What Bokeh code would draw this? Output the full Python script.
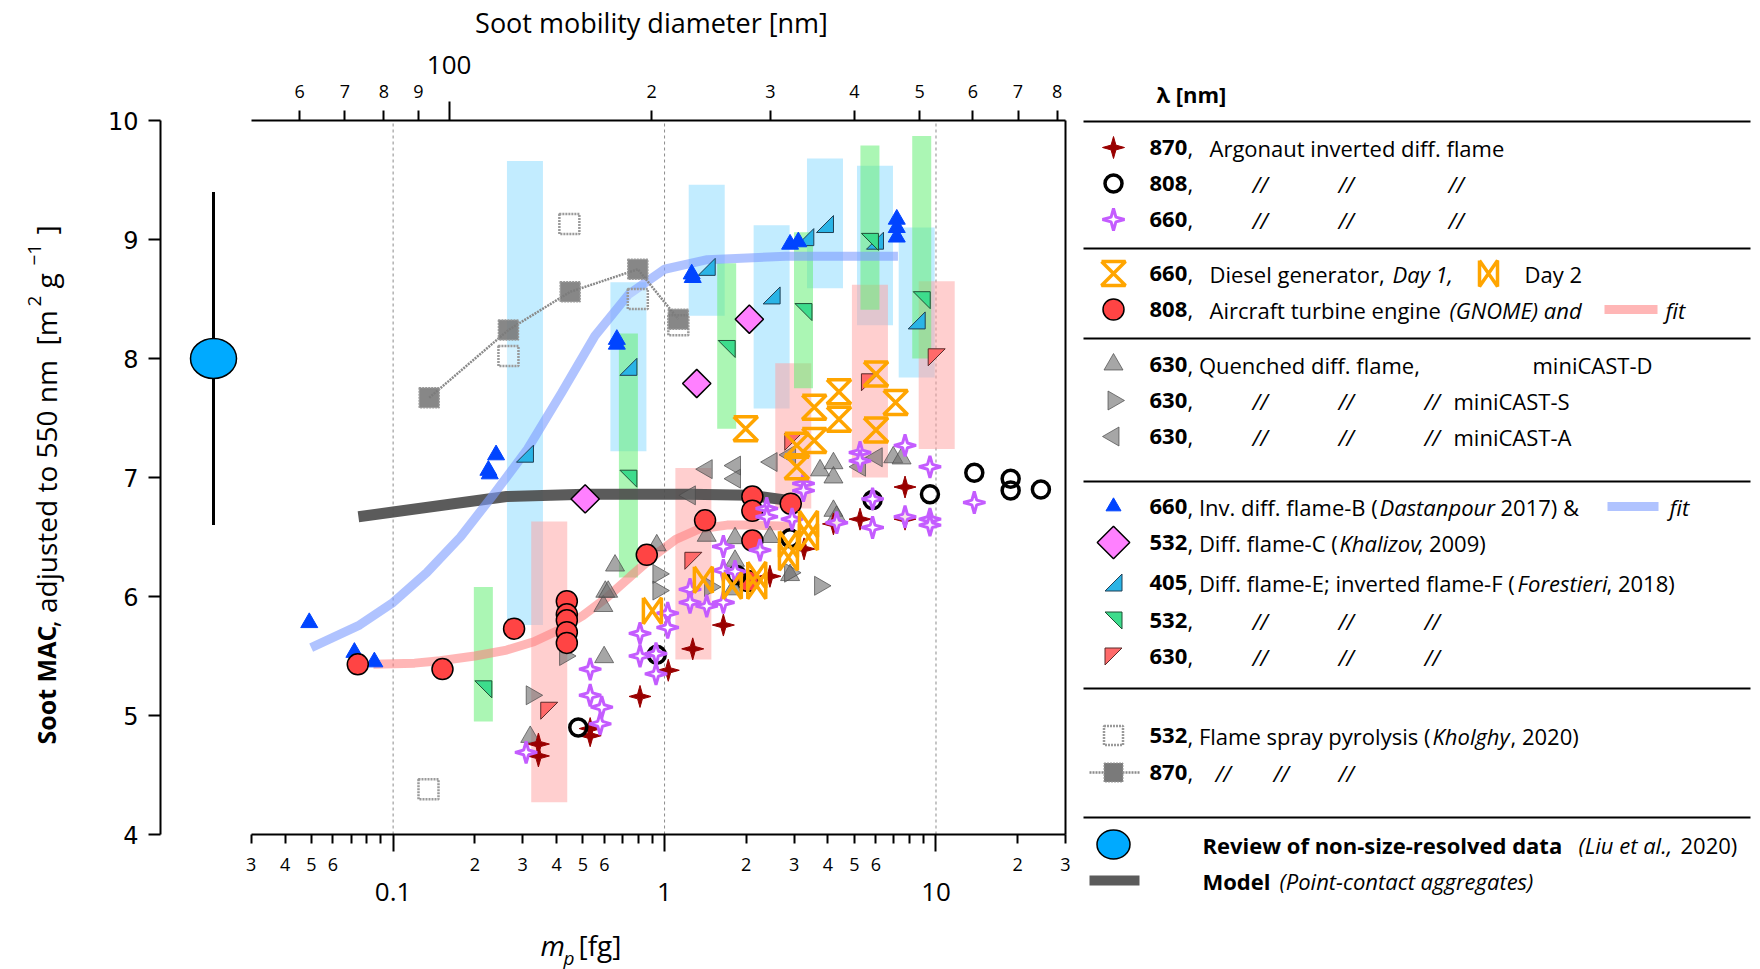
import numpy as np
from bokeh.plotting import figure
from bokeh.models import Range1d, LogScale, LogAxis, LinearAxis, FixedTicker
from bokeh.embed import file_html
from bokeh.resources import INLINE
from bokeh.core.properties import value

FONT = "Open Sans"

# ------------------------------------------------------------------ data
# m_p [fg] and MAC [m2/g] adjusted to 550 nm
# Argonaut inverted diffusion flame
arg870_m = [0.343, 0.343, 0.532, 0.532, 0.812, 1.032, 1.27, 1.647, 2.445, 3.265, 4.19, 5.25, 7.69, 7.69]
arg870_v = [4.76, 4.66, 4.89, 4.83, 5.16, 5.38, 5.56, 5.76, 6.17, 6.40, 6.61, 6.65, 6.92, 6.65]
arg808_m = [0.481, 0.936, 1.845, 2.9, 5.84, 9.5, 13.84, 18.84, 18.84, 24.35]
arg808_v = [4.90, 5.51, 6.18, 6.49, 6.81, 6.86, 7.04, 6.99, 6.89, 6.90]
arg660_m = [0.309, 0.532, 0.532, 0.587, 0.579, 0.812, 0.812, 0.93, 0.93, 1.027, 1.027,
            1.241, 1.241, 1.43, 1.647, 1.647, 1.647, 1.818, 2.247, 2.38, 2.38, 2.95,
            3.25, 3.25, 4.31, 5.25, 5.25, 5.84, 5.84, 7.69, 7.69, 9.5, 9.5, 9.5, 13.84]
arg660_v = [4.69, 5.39, 5.17, 5.07, 4.93, 5.69, 5.50, 5.52, 5.35, 5.86, 5.74,
            6.06, 5.95, 5.92, 6.42, 6.22, 5.95, 6.21, 6.39, 6.74, 6.67, 6.65,
            6.95, 6.89, 6.62, 7.21, 7.14, 6.82, 6.58, 7.27, 6.67, 7.09, 6.65, 6.60, 6.79]
# Diesel generator
day1_m = [1.99, 3.56, 4.39, 4.39, 6.01, 7.10, 6.01, 3.56, 3.07, 3.07]
day1_v = [7.41, 7.59, 7.72, 7.49, 7.87, 7.63, 7.40, 7.31, 7.27, 7.09]
day2_m = [0.902, 1.39, 1.777, 2.186, 2.186, 2.86, 2.86, 3.39, 3.39]
day2_v = [5.88, 6.14, 6.09, 6.18, 6.09, 6.44, 6.33, 6.61, 6.50]
# Aircraft turbine engine (GNOME) and fit
gnome_m = [0.0741, 0.152, 0.279, 0.4365, 0.4365, 0.4365, 0.4365, 0.4365, 0.86, 1.41, 2.03, 2.106, 2.106, 2.106, 2.917]
gnome_v = [5.43, 5.39, 5.73, 5.96, 5.85, 5.80, 5.70, 5.61, 6.35, 6.64, 6.13, 6.84, 6.72, 6.47, 6.78]
gnome_fit_m = [0.0846, 0.12, 0.149, 0.2, 0.262, 0.33, 0.401, 0.5, 0.612, 0.75, 0.936, 1.1, 1.35, 1.7, 2.065, 2.9]
gnome_fit_v = [5.43, 5.44, 5.46, 5.50, 5.55, 5.62, 5.71, 5.84, 5.99, 6.17, 6.36, 6.48, 6.57, 6.60, 6.60, 6.59]
# Quenched diffusion flame, miniCAST-D / -S / -A
castD_m = [0.32, 0.599, 0.595, 0.605, 0.62, 0.657, 0.936, 1.43, 1.818, 1.818, 1.79, 2.445, 2.9, 3.74, 4.19, 4.19, 4.19, 4.3, 6.96, 7.47]
castD_v = [4.82, 5.49, 5.92, 6.04, 6.04, 6.26, 6.43, 6.51, 6.49, 6.30, 6.06, 6.50, 6.18, 7.06, 7.12, 7.00, 6.72, 6.67, 7.17, 7.16]
castS_m = [0.324, 0.43, 0.949, 0.949, 1.471, 2.9, 3.74]
castS_v = [5.17, 5.50, 6.19, 6.05, 6.08, 6.20, 6.09]
castA_m = [1.24, 1.43, 1.818, 1.818, 2.48, 2.9, 5.25, 6.05]
castA_v = [6.85, 7.07, 7.10, 6.99, 7.13, 7.19, 7.09, 7.17]
# Inverted diffusion flame-B (Dastanpour 2017) and fit
dast_m = [0.0491, 0.0720, 0.0853, 0.2395, 0.2244, 0.227, 0.667, 0.667, 1.259, 1.27, 2.90, 3.11, 7.17, 7.17, 7.17]
dast_v = [5.78, 5.53, 5.45, 7.19, 7.06, 7.03, 8.16, 8.12, 8.71, 8.68, 8.96, 8.98, 9.17, 9.10, 9.02]
dast_fit_m = [0.0499, 0.0752, 0.1, 0.133, 0.177, 0.235, 0.313, 0.417, 0.554, 0.738, 1.0, 1.436, 2.8, 7.24]
dast_fit_v = [5.57, 5.76, 5.95, 6.20, 6.50, 6.86, 7.24, 7.71, 8.19, 8.54, 8.75, 8.83, 8.86, 8.86]
# Diffusion flame-C (Khalizov 2009)
khal_m = [0.510, 1.314, 2.053]
khal_v = [6.82, 7.79, 8.33]
# Forestieri 2018, 405 / 532 / 630 nm, with ranges
f405_m = [0.306, 0.736, 1.43, 2.48, 3.30, 3.90, 5.96, 8.49]
f405_v = [7.20, 7.93, 8.77, 8.53, 9.02, 9.13, 8.99, 8.32]
f405_lo = [5.76, 7.22, 8.36, 7.58, None, 8.59, 8.28, 7.84]
f405_hi = [9.66, 8.64, 9.46, 9.12, None, 9.68, 9.62, 9.10]
f532_m = [0.215, 0.736, 1.694, 3.25, 5.71, 8.86]
f532_v = [5.22, 6.99, 8.08, 8.39, 8.98, 8.49]
f532_lo = [4.95, 6.16, 7.41, 7.75, 8.41, 8.00]
f532_hi = [6.08, 8.21, 8.80, 9.06, 9.79, 9.87]
f630_m = [0.376, 1.277, 2.98, 5.71, 10.06]
f630_v = [5.04, 6.30, 7.30, 7.80, 8.01]
f630_lo = [4.27, 5.47, 6.74, 7.00, 7.24]
f630_hi = [6.63, 7.08, 7.96, 8.62, 8.65]
# Flame spray pyrolysis (Kholghy 2020)
fsp532_m = [0.135, 0.266, 0.446, 0.797, 1.124]
fsp532_v = [4.38, 8.02, 9.13, 8.50, 8.28]
fsp870_m = [0.1358, 0.266, 0.449, 0.797, 1.124]
fsp870_v = [7.67, 8.24, 8.56, 8.75, 8.33]
# Review of non-size-resolved data (Liu et al. 2020)
liu_mac = 8.0
liu_lo = 6.6
liu_hi = 9.4
# Model (point-contact aggregates)
model_m = [0.0745, 0.1, 0.262, 0.51, 1.24, 2.065, 2.82]
model_v = [6.67, 6.71, 6.84, 6.86, 6.86, 6.85, 6.81]
# axis ticks
y_ticks = [4, 5, 6, 7, 8, 9, 10]
bottom_ticks = [0.03, 0.04, 0.05, 0.06, 0.07, 0.08, 0.09, 0.2, 0.3, 0.4, 0.5, 0.6, 0.7, 0.8, 0.9,
                2, 3, 4, 5, 6, 7, 8, 9, 20, 30]
bottom_labels = ["3", "4", "5", "6", "", "", "", "2", "3", "4", "5", "6", "", "", "",
                 "2", "3", "4", "5", "6", "", "", "", "2", "3"]
decade_ticks = [0.1, 1, 10]
decade_labels = ["0.1", "1", "10"]
top_ticks = [60, 70, 80, 90, 200, 300, 400, 500, 600, 700, 800]
top_labels = ["6", "7", "8", "9", "2", "3", "4", "5", "6", "7", "8"]
top_main_tick = 100
# mass-mobility relation used for the top axis: m = M100 * (d/100)^DM
M100 = 0.1608
DM = 2.48

# ------------------------------------------------------------------ layout (canvas pixels)
W, H = 1760, 969
PL, PR, PT, PB = 160, 1065, 120, 834        # plot box on the canvas
XMIN, XMAX = 0.0139, 30.0
YMIN, YMAX = 4, 10
PPD = (PR - PL) / np.log10(XMAX / XMIN)
PPU = (PB - PT) / (YMAX - YMIN)


def dx(xf):
    return XMIN * 10 ** ((xf - PL) / PPD)


def dy(yf):
    return YMAX - (yf - PT) / PPU


def d_of_m(m):
    return 100.0 * (m / M100) ** (1.0 / DM)


def shapes(ms, vs, offs):
    xs = [[m * 10 ** (ox / PPD) for ox, oy in offs] for m in ms]
    ys = [[v + oy / PPU for ox, oy in offs] for v in vs]
    return xs, ys


def star4(R=11, r=3.4):
    c = r * np.cos(np.pi / 4)
    return [(0, R), (c, c), (R, 0), (c, -c), (0, -R), (-c, -c), (-R, 0), (-c, c)]


HOUR = [(-12, 12), (12, 12), (-12, -12), (12, -12), (-12, 12)]
BOW = [(-9, 13), (-9, -13), (9, 13), (9, -13), (-9, 13)]
S = 8.5
TRI405 = [(-S, -S), (S, -S), (S, S)]
TRI532 = [(-S, S), (S, S), (S, -S)]
TRI630 = [(-S, S), (S, S), (-S, -S)]

C_DRED = "#990000"
C_PURP = "#c45cff"
C_ORNG = "#ffa500"
C_RED = "#ff4444"
C_BLUE = "#0044ff"
C_PINK = "#ff80ff"
C_CYAN = "#2ab4e6"
C_GREEN = "#3ddc8c"
C_SALM = "#ff6a6a"
C_GRAY = "#6a6a6a"

p = figure(width=W, height=H, x_axis_type="log",
           x_range=Range1d(dx(0), dx(W)), y_range=Range1d(dy(H), dy(0)),
           x_axis_location=None, y_axis_location=None, min_border=0,
           output_backend="svg", toolbar_location=None, title=None)
p.outline_line_color = None
p.grid.visible = False
p.background_fill_color = "white"
p.border_fill_color = "white"

# bottom axis (fg)
bx = LogAxis(fixed_location=YMIN, bounds=(0.03, 30),
             ticker=FixedTicker(ticks=bottom_ticks, minor_ticks=decade_ticks),
             major_label_overrides={t: l for t, l in zip(bottom_ticks, bottom_labels)})
bx.axis_line_width = 2
bx.major_tick_line_width = 2
bx.minor_tick_line_width = 2
bx.major_tick_out = 9
bx.major_tick_in = 0
bx.minor_tick_out = 17
bx.minor_tick_in = 0
bx.major_label_standoff = 6
bx.major_label_text_font = FONT
bx.major_label_text_font_size = "18px"
bx.major_label_text_color = "black"
p.add_layout(bx, "below")

# left axis
ly = LinearAxis(fixed_location=XMIN, bounds=(YMIN, YMAX), ticker=FixedTicker(ticks=y_ticks))
ly.axis_line_width = 2
ly.major_tick_line_width = 2
ly.major_tick_out = 12
ly.major_tick_in = 0
ly.minor_tick_line_color = None
ly.major_label_standoff = 10
ly.major_label_text_font = "DejaVu Sans"
ly.major_label_text_font_size = "24px"
ly.major_label_text_color = "black"
p.add_layout(ly, "left")

# right frame line
ra = LinearAxis(fixed_location=XMAX, bounds=(YMIN, YMAX), ticker=FixedTicker(ticks=[]),
                axis_line_width=2, major_tick_line_color=None, minor_tick_line_color=None)
p.add_layout(ra, "right")

# top axis: soot mobility diameter
p.extra_x_ranges = {"d": Range1d(d_of_m(dx(0)), d_of_m(dx(W)))}
p.extra_x_scales = {"d": LogScale()}
ta = LogAxis(x_range_name="d", fixed_location=YMAX, bounds=(d_of_m(0.03), d_of_m(30)),
             ticker=FixedTicker(ticks=top_ticks, minor_ticks=[top_main_tick]),
             major_label_overrides={t: l for t, l in zip(top_ticks, top_labels)})
ta.axis_line_width = 2
ta.major_tick_line_width = 2
ta.minor_tick_line_width = 2
ta.major_tick_out = 10
ta.major_tick_in = 0
ta.minor_tick_out = 19
ta.minor_tick_in = 0
ta.major_label_standoff = 4
ta.major_label_text_font = FONT
ta.major_label_text_font_size = "18px"
ta.major_label_text_color = "black"
p.add_layout(ta, "above")

# dotted decade lines
p.segment(x0=decade_ticks, y0=[YMIN] * 3, x1=decade_ticks, y1=[YMAX] * 3,
          line_color="#8c8c8c", line_dash="3 3", line_width=1)

# ------------------------------------------------------------------ range boxes
def add_boxes(ms, lo, hi, half_px, color, alpha):
    f = 10 ** (half_px / PPD)
    lo_ = [np.nan if v is None else v for v in lo]
    hi_ = [np.nan if v is None else v for v in hi]
    p.quad(left=[m / f for m in ms], right=[m * f for m in ms], bottom=lo_, top=hi_,
           fill_color=color, fill_alpha=alpha, line_color=None)


add_boxes(f405_m, f405_lo, f405_hi, 18, "#8fdcff", 0.55)
add_boxes(f630_m, f630_lo, f630_hi, 18, "#ffa0a0", 0.5)
add_boxes(f532_m, f532_lo, f532_hi, 9.5, "#66ee77", 0.55)

# ------------------------------------------------------------------ curves
p.line(model_m, model_v, line_color="#4d4d4d", line_width=11, line_alpha=0.92)
p.line(dast_fit_m, dast_fit_v, line_color="#7b9bff", line_width=9, line_alpha=0.6)
p.line(gnome_fit_m, gnome_fit_v, line_color="#ff7a7a", line_width=9, line_alpha=0.55)
p.line(fsp870_m, fsp870_v, line_color="#8a8a8a", line_width=2.5, line_dash="2 1")

# ------------------------------------------------------------------ markers
p.scatter(fsp532_m, fsp532_v, marker="square", size=20, fill_color="white", fill_alpha=0.3,
          line_color="#9a9a9a", line_width=2.5, line_dash="2 1")
p.scatter(fsp870_m, fsp870_v, marker="square", size=20, fill_color="#7a7a7a", fill_alpha=0.9,
          line_color="#999999", line_width=1.5, line_dash="2 1")

GRAY_KW = dict(size=19, fill_color=C_GRAY, fill_alpha=0.6, line_color="#4a4a4a", line_alpha=0.7)
p.scatter(castD_m, castD_v, marker="triangle", **GRAY_KW)
p.scatter(castS_m, castS_v, marker="triangle", angle=-np.pi / 2, **GRAY_KW)
p.scatter(castA_m, castA_v, marker="triangle", angle=np.pi / 2, **GRAY_KW)

xs, ys = shapes(f405_m, f405_v, TRI405)
p.patches(xs, ys, fill_color=C_CYAN, line_color="#1f3f55", line_width=1)
xs, ys = shapes(f532_m, f532_v, TRI532)
p.patches(xs, ys, fill_color=C_GREEN, line_color="#1f4f35", line_width=1)
xs, ys = shapes(f630_m, f630_v, TRI630)
p.patches(xs, ys, fill_color=C_SALM, line_color="#5a2a2a", line_width=1)

p.scatter(dast_m, dast_v, marker="triangle", size=17, fill_color=C_BLUE, line_color=C_BLUE)

p.scatter(khal_m, khal_v, marker="square", angle=np.pi / 4, size=20, fill_color=C_PINK,
          line_color="black", line_width=1.5)

p.scatter(gnome_m, gnome_v, marker="circle", size=21, fill_color=C_RED, line_color="black",
          line_width=1.5)

xs, ys = shapes(arg870_m, arg870_v, star4())
p.patches(xs, ys, fill_color=C_DRED, line_color=C_DRED, line_width=1)
p.scatter(arg808_m, arg808_v, marker="circle", size=17, fill_alpha=0, line_color="black",
          line_width=3.5)
xs, ys = shapes(arg660_m, arg660_v, star4())
p.patches(xs, ys, fill_color="white", fill_alpha=0.9, line_color=C_PURP, line_width=3)

xs, ys = shapes(day1_m, day1_v, HOUR)
p.multi_line(xs, ys, line_color=C_ORNG, line_width=3.5)
xs, ys = shapes(day2_m, day2_v, BOW)
p.multi_line(xs, ys, line_color=C_ORNG, line_width=3.5)

# Liu et al. review value with its range
LIU_X = dx(213)
p.segment(x0=[LIU_X], y0=[liu_lo], x1=[LIU_X], y1=[liu_hi], line_color="black", line_width=3)
p.ellipse(x=[LIU_X], y=[liu_mac], width=46, height=40, width_units="screen",
          height_units="screen", fill_color="#00aaff", line_color="black", line_width=1.5)


# ------------------------------------------------------------------ texts
def txt(xf, yf, s, style="normal", size="22px", align="left", angle=0.0, font=FONT):
    p.text(x=[dx(xf)], y=[dy(yf)], text=[s], angle=angle, text_font=value(font),
           text_font_style=style, text_font_size=size, text_align=align,
           text_baseline="middle", text_color="black")


for t, lab in zip(decade_ticks, decade_labels):
    p.text(x=[t], y=[dy(891)], text=[lab], text_font=value(FONT), text_font_size="26px",
           text_align="center", text_baseline="middle", text_color="black")
p.text(x=[top_main_tick], y=[dy(64)], text=[str(top_main_tick)], x_range_name="d",
       text_font=value(FONT), text_font_size="26px", text_align="center",
       text_baseline="middle", text_color="black")
txt(651, 22, "Soot mobility diameter [nm]", size="27px", align="center")
txt(540, 944, "m", style="italic", size="28px")
txt(563, 957, "p", style="italic", size="19px")
txt(578, 944, "[fg]", size="28px")
# rotated y title, built bottom-up
YT = 45
R90 = np.pi / 2
txt(YT, 744, "Soot MAC", style="bold", size="25px", angle=R90)
txt(YT, 627, ", adjusted to 550 nm", size="28px", angle=R90)
txt(YT, 345, "[m", size="28px", angle=R90)
txt(YT - 11, 306, "2", size="19px", angle=R90)
txt(YT, 288, "g", size="28px", angle=R90)
txt(YT - 11, 265, "\u22121", size="19px", angle=R90)
txt(YT, 234, "]", size="28px", angle=R90)

# ------------------------------------------------------------------ legend
rows = [147, 183, 219, 273, 309, 364, 400, 436, 506, 542, 582, 620, 656, 735, 772, 844, 880]
seps = [121, 248, 338, 481, 688, 817]
p.segment(x0=[dx(1083)] * len(seps), y0=[dy(s) for s in seps], x1=[dx(1750)] * len(seps),
          y1=[dy(s) for s in seps], line_color="black", line_width=2)

MX = 1113


def lshape(xf, yf, offs):
    xs_, ys_ = shapes([dx(xf)], [dy(yf)], offs)
    return xs_[0], ys_[0]


a, b = lshape(MX, rows[0], star4())
p.patch(a, b, fill_color=C_DRED, line_color=C_DRED)
p.scatter([dx(MX)], [dy(rows[1])], marker="circle", size=17, fill_alpha=0, line_color="black", line_width=3.5)
a, b = lshape(MX, rows[2], star4())
p.patch(a, b, fill_color="white", line_color=C_PURP, line_width=3)
a, b = lshape(MX, rows[3], HOUR)
p.line(a, b, line_color=C_ORNG, line_width=3.5)
a, b = lshape(1488, rows[3], BOW)
p.line(a, b, line_color=C_ORNG, line_width=3.5)
p.scatter([dx(MX)], [dy(rows[4])], marker="circle", size=21, fill_color=C_RED, line_color="black", line_width=1.5)
p.line([dx(1604), dx(1657)], [dy(rows[4])] * 2, line_color="#ff7a7a", line_width=9, line_alpha=0.55)
p.scatter([dx(MX)], [dy(rows[5])], marker="triangle", **GRAY_KW)
p.scatter([dx(MX)], [dy(rows[6])], marker="triangle", angle=-np.pi / 2, **GRAY_KW)
p.scatter([dx(MX)], [dy(rows[7])], marker="triangle", angle=np.pi / 2, **GRAY_KW)
p.scatter([dx(MX)], [dy(rows[8])], marker="triangle", size=15, fill_color=C_BLUE, line_color=C_BLUE)
p.line([dx(1607), dx(1658)], [dy(rows[8])] * 2, line_color="#7b9bff", line_width=9, line_alpha=0.6)
p.scatter([dx(MX)], [dy(rows[9])], marker="square", angle=np.pi / 4, size=23, fill_color=C_PINK,
          line_color="black", line_width=1.5)
a, b = lshape(MX, rows[10], TRI405)
p.patch(a, b, fill_color=C_CYAN, line_color="#1f3f55")
a, b = lshape(MX, rows[11], TRI532)
p.patch(a, b, fill_color=C_GREEN, line_color="#1f4f35")
a, b = lshape(MX, rows[12], TRI630)
p.patch(a, b, fill_color=C_SALM, line_color="#5a2a2a")
p.scatter([dx(MX)], [dy(rows[13])], marker="square", size=19, fill_color="white", line_color="#9a9a9a",
          line_width=2.5, line_dash="2 1")
p.line([dx(1089), dx(1139)], [dy(rows[14])] * 2, line_color="#8a8a8a", line_width=2.5, line_dash="2 1")
p.scatter([dx(MX)], [dy(rows[14])], marker="square", size=19, fill_color="#7a7a7a", line_color="#999999",
          line_dash="2 1")
p.ellipse(x=[dx(MX)], y=[dy(rows[15])], width=33, height=29, width_units="screen",
          height_units="screen", fill_color="#00aaff", line_color="black", line_width=1.5)
p.line([dx(1089), dx(1139)], [dy(rows[16])] * 2, line_color="#4d4d4d", line_width=10, line_alpha=0.92)

NB = 1149   # wavelength number
NC = 1187   # comma / rest
NT = 1209   # text start for the first rows
S1, S2, S3 = 1252, 1338, 1424
texts = [
    (1156, 93, "λ [nm]", "bold"),
    (NB, rows[0], "870", "bold"), (NC, rows[0], ",", "normal"),
    (NT, rows[0], "Argonaut inverted diff. flame", "normal"),
    (NB, rows[1], "808", "bold"), (NC, rows[1], ",", "normal"),
    (S1, rows[1], "//", "italic"), (S2, rows[1], "//", "italic"), (1448, rows[1], "//", "italic"),
    (NB, rows[2], "660", "bold"), (NC, rows[2], ",", "normal"),
    (S1, rows[2], "//", "italic"), (S2, rows[2], "//", "italic"), (1448, rows[2], "//", "italic"),
    (NB, rows[3], "660", "bold"), (NC, rows[3], ",", "normal"),
    (NT, rows[3], "Diesel generator,", "normal"), (1392, rows[3], "Day 1,", "italic"),
    (1524, rows[3], "Day 2", "normal"),
    (NB, rows[4], "808", "bold"), (NC, rows[4], ",", "normal"),
    (NT, rows[4], "Aircraft turbine engine", "normal"), (1449, rows[4], "(GNOME) and", "italic"),
    (1665, rows[4], "fit", "italic"),
    (NB, rows[5], "630", "bold"), (NC, rows[5], ", Quenched diff. flame,", "normal"),
    (1532, rows[5], "miniCAST-D", "normal"),
    (NB, rows[6], "630", "bold"), (NC, rows[6], ",", "normal"),
    (S1, rows[6], "//", "italic"), (S2, rows[6], "//", "italic"), (S3, rows[6], "//", "italic"),
    (1453, rows[6], "miniCAST-S", "normal"),
    (NB, rows[7], "630", "bold"), (NC, rows[7], ",", "normal"),
    (S1, rows[7], "//", "italic"), (S2, rows[7], "//", "italic"), (S3, rows[7], "//", "italic"),
    (1453, rows[7], "miniCAST-A", "normal"),
    (NB, rows[8], "660", "bold"), (NC, rows[8], ", Inv. diff. flame-B (", "normal"),
    (1379, rows[8], "Dastanpour", "italic"), (1500, rows[8], " 2017) &", "normal"),
    (1669, rows[8], "fit", "italic"),
    (NB, rows[9], "532", "bold"), (NC, rows[9], ", Diff. flame-C (", "normal"),
    (1339, rows[9], "Khalizov", "italic"), (1417, rows[9], ", 2009)", "normal"),
    (NB, rows[10], "405", "bold"), (NC, rows[10], ", Diff. flame-E; inverted flame-F  (", "normal"),
    (1517, rows[10], "Forestieri", "italic"), (1606, rows[10], ", 2018)", "normal"),
    (NB, rows[11], "532", "bold"), (NC, rows[11], ",", "normal"),
    (S1, rows[11], "//", "italic"), (S2, rows[11], "//", "italic"), (S3, rows[11], "//", "italic"),
    (NB, rows[12], "630", "bold"), (NC, rows[12], ",", "normal"),
    (S1, rows[12], "//", "italic"), (S2, rows[12], "//", "italic"), (S3, rows[12], "//", "italic"),
    (NB, rows[13], "532", "bold"), (NC, rows[13], ", Flame spray pyrolysis (", "normal"),
    (1432, rows[13], "Kholghy", "italic"), (1510, rows[13], ", 2020)", "normal"),
    (NB, rows[14], "870", "bold"), (NC, rows[14], ",", "normal"),
    (1215, rows[14], "//", "italic"), (1273, rows[14], "//", "italic"), (1338, rows[14], "//", "italic"),
    (1202, rows[15], "Review of non-size-resolved data", "bold"),
    (1578, rows[15], "(Liu et al.,", "italic"), (1680, rows[15], "2020)", "normal"),
    (1202, rows[16], "Model", "bold"),
    (1279, rows[16], "(Point-contact aggregates)", "italic"),
]
for style in ("normal", "bold", "italic"):
    sel = [t for t in texts if t[3] == style]
    p.text(x=[dx(t[0]) for t in sel], y=[dy(t[1]) for t in sel], text=[t[2] for t in sel],
           text_font=value(FONT), text_font_style=style, text_font_size="22px",
           text_align="left", text_baseline="middle", text_color="black")

open("out.html", "w").write(file_html(p, INLINE))
